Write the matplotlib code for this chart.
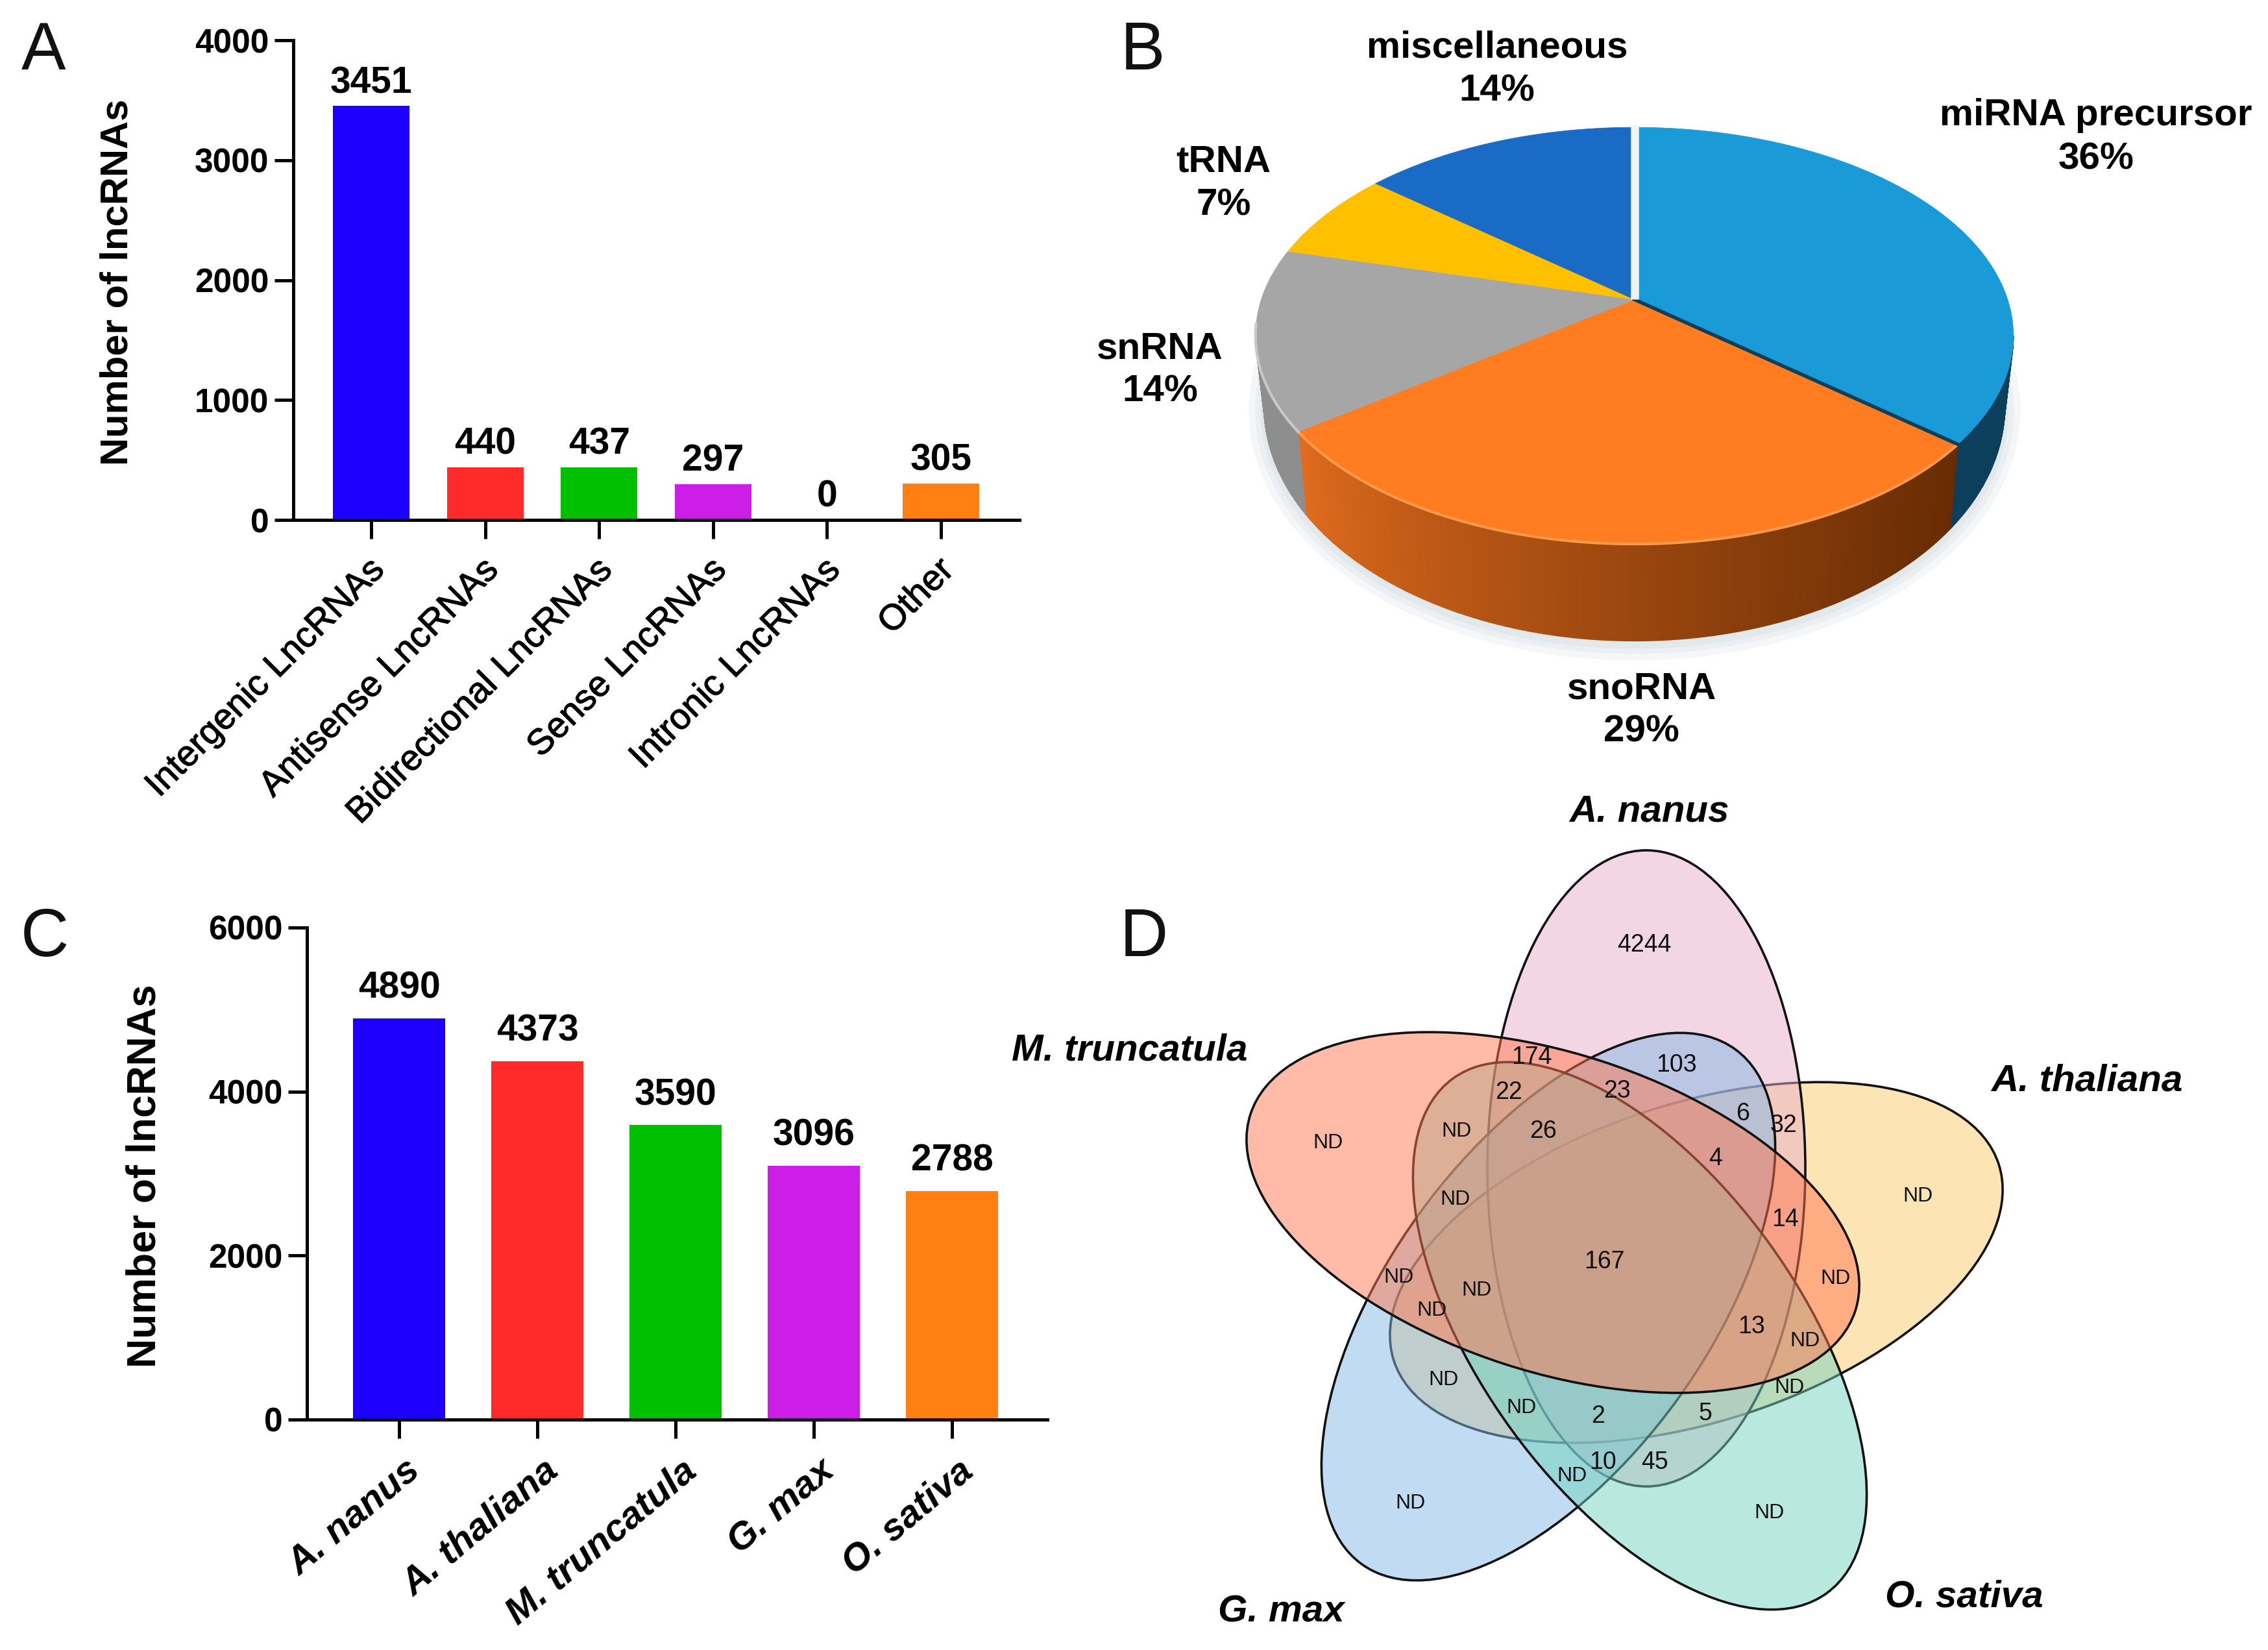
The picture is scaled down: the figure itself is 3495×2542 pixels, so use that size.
import numpy as np
import matplotlib
matplotlib.use("Agg")
import matplotlib.pyplot as plt
import matplotlib.patheffects as pe
from matplotlib.patches import Ellipse, Polygon
from matplotlib.transforms import ScaledTranslation

W, H = 3495, 2542
S = W / 1568.0
plt.rcParams['font.family'] = ['Liberation Sans', 'DejaVu Sans']

# ---- data
a_cats = ['Intergenic LncRNAs', 'Antisense LncRNAs', 'Bidirectional LncRNAs',
          'Sense LncRNAs', 'Intronic LncRNAs', 'Other']
a_vals = [3451, 440, 437, 297, 0, 305]
a_cols = ['#1E00FF', '#FF2A2A', '#00C000', '#CC1EE6', '#FFFFFF', '#FF8010']

c_cats = ['A. nanus', 'A. thaliana', 'M. truncatula', 'G. max', 'O. sativa']
c_vals = [4890, 4373, 3590, 3096, 2788]
c_cols = ['#1E00FF', '#FF2A2A', '#00C000', '#CC1EE6', '#FF8010']

pie_names = ['miRNA precursor', 'snoRNA', 'snRNA', 'tRNA', 'miscellaneous']
pie_vals = [36, 29, 14, 7, 14]
pie_cols = ['#1B9AD8', '#FF7D20', '#A6A6A6', '#FFC000', '#1A6BC6']
pie_side = ['#0B3F5C', None, '#8E8E8E', '#8E8E8E', '#8E8E8E']
pie_label_pos = [(1449, 95), (1135, 491), (802, 256), (846, 127), (1035, 48)]

venn_names = ['A. nanus', 'A. thaliana', 'O. sativa', 'G. max', 'M. truncatula']
venn_name_pos = [(1140, 561), (1443, 747), (1358, 1104), (886, 1114), (781, 726)]
# drawing order: centre x, centre y, rotation (deg, image), colour
venn_shapes = [(2614, 1945, 162, '#FDCB6C'),
               (2537, 1800, 90, '#E8AFC8'),
               (2386, 2013, 126, '#82B8E6'),
               (2527, 2058, 54, '#74D3BE'),
               (2393, 1868, 18, '#FF7850')]
venn_labels = ['4244', '174', '103', '22', '23', '6', '32', 'ND', '26', '4', 'ND', '14', '167',
               'ND', 'ND', 'ND', 'ND', '13', 'ND', 'ND', 'ND', 'ND', '2', '5', '10', '45', 'ND',
               'ND', 'ND', 'ND', 'ND']
venn_label_pos = [(1137, 653), (1059, 731), (1159, 736), (1043, 755), (1118, 754), (1205, 770),
                  (1233, 778), (1007, 782), (1067, 782), (1186, 801), (1006, 829), (1234, 843),
                  (1109, 872), (967, 883), (1021, 892), (1269, 884), (990, 906), (1211, 917),
                  (1248, 927), (998, 954), (1237, 959), (1052, 973), (1105, 979), (1179, 977),
                  (1108, 1011), (1144, 1011), (1087, 1020), (918, 790), (1326, 827), (975, 1039),
                  (1223, 1046)]

panel_letters = ['A', 'B', 'C', 'D']
panel_pos = [(30, 36), (790, 36), (31, 649), (791, 649)]

fig = plt.figure(figsize=(W / 100, H / 100), dpi=100, facecolor='white')

# overlay in pixel coordinates
ov = fig.add_axes([0, 0, 1, 1])
ov.set_xlim(0, W)
ov.set_ylim(H, 0)
ov.axis('off')


def px_axes(left, right, top, bottom):
    return fig.add_axes([left / W, 1 - bottom / H, (right - left) / W, (bottom - top) / H])


def bar_panel(ax, cats, vals, cols, ymax, yticks, width, xl, offset, rot, lab_kw, lab_dx,
              ylab_x, ylab_y, ylab_size, stroke=0):
    x = np.arange(len(vals))
    ax.bar(x, vals, width=width, color=cols, linewidth=0)
    ax.set_xlim(*xl)
    ax.set_ylim(0, ymax)
    ax.set_yticks(yticks)
    ax.set_xticks(x)
    ax.set_xticklabels(cats, rotation=rot, ha='right', va='top', rotation_mode='anchor', **lab_kw)
    ax.tick_params(axis='both', length=21, width=3.6, color='black')
    ax.tick_params(axis='y', labelsize=37, pad=6)
    ax.tick_params(axis='x', pad=16)
    for lab in ax.get_yticklabels():
        lab.set_fontweight('bold')
    for lab in ax.get_xticklabels():
        lab.set_transform(lab.get_transform() + ScaledTranslation(lab_dx / 100, 0, fig.dpi_scale_trans))
        if stroke:
            lab.set_path_effects([pe.withStroke(linewidth=stroke, foreground='black')])
    for s in ('top', 'right'):
        ax.spines[s].set_visible(False)
    for s in ('left', 'bottom'):
        ax.spines[s].set_linewidth(3.6)
    ax.patch.set_alpha(0)
    for xi, v in zip(x, vals):
        ax.annotate(str(v), (xi, v), xytext=(0, offset), textcoords='offset points',
                    ha='center', va='bottom', fontsize=41, fontweight='bold')
    fig.text(ylab_x / W, 1 - ylab_y / H, 'Number of lncRNAs', rotation=90, ha='center', va='center',
             fontsize=ylab_size, fontweight='bold')


ax_a = px_axes(452, 1571, 62, 801)
bar_panel(ax_a, a_cats, a_vals, a_cols, 4000, [0, 1000, 2000, 3000, 4000], 0.672,
          (-0.683, 5.689), 6, 45, dict(fontsize=40), -6, 181, 435, 43, stroke=0.8)

ax_c = px_axes(473, 1614, 1429, 2187)
bar_panel(ax_c, c_cats, c_vals, c_cols, 6000, [0, 2000, 4000, 6000], 0.67,
          (-0.667, 4.69), 14, 40, dict(fontsize=42, fontweight='bold', fontstyle='italic'), 8,
          223, 1812, 45)

# ---- Pie with projective tilt (B)
cx, cy = 1130 * S, 232 * S
rx, ry = 262 * S, 144 * S
bcy, brx, bry = 281 * S, 256 * S, 162 * S
apex = np.array([1130 * S, 207 * S])
chord = (cy - apex[1]) / ry
k = np.tan(np.arccos(chord) / 2)


def rim_t(frac):
    th = 2 * np.pi * np.asarray(frac)
    return 2 * np.arctan2(k * np.sin(th / 2), np.cos(th / 2))


def rim(t):
    return cx + rx * np.sin(t), cy - ry * np.cos(t)


def base(t):
    return cx + brx * np.sin(t), bcy - bry * np.cos(t)


fr = np.cumsum([0] + pie_vals) / np.sum(pie_vals)
for grow, col in ((24, '#F4F6F8'), (14, '#ECEFF2'), (6, '#E3E8EB')):
    ov.add_patch(Ellipse((cx, bcy + 6), 2 * brx + 2 * grow, 2 * bry + 2 * grow,
                         color=col, lw=0, zorder=1))

# side wall, drawn as short quads along the front of the rim
for i in range(len(pie_vals)):
    ta, tb = rim_t(fr[i]), rim_t(fr[i + 1])
    lo, hi = max(ta, np.pi / 2), min(tb, 3 * np.pi / 2)
    if lo >= hi:
        continue
    ts = np.linspace(lo, hi, 90)
    for t0, t1 in zip(ts[:-1], ts[1:]):
        x0, y0 = rim(t0)
        x1, y1 = rim(t1)
        x2, y2 = base(t1)
        x3, y3 = base(t0)
        if pie_side[i] is None:
            u = ((t0 + t1) / 2 - ta) / (tb - ta)
            c0, c1 = np.array([0x68, 0x2C, 0x04]), np.array([0xE0, 0x6C, 0x1E])
            col = (c0 + (c1 - c0) * u ** 1.2) / 255
        else:
            col = pie_side[i]
        ov.add_patch(Polygon([(x0, y0), (x1, y1), (x2, y2), (x3, y3)],
                             facecolor=col, edgecolor=col, lw=1, zorder=2))

# top face
for i, col in enumerate(pie_cols):
    ts = np.linspace(rim_t(fr[i]), rim_t(fr[i + 1]), 200)
    xs, ys = rim(ts)
    pts = np.vstack([[apex], np.column_stack([xs, ys])])
    ov.add_patch(Polygon(pts, closed=True, facecolor=col, edgecolor=col, lw=0.5, zorder=3))
    if i == 1:
        ov.plot(xs, ys, color='#FF9A4A', lw=3, zorder=4)
    if i == 2:
        ov.plot(xs[:120], ys[:120], color='#C8C8C8', lw=3, zorder=4)

xb, yb = rim(rim_t(fr[1]))
ov.plot([apex[0], xb], [apex[1], yb], color='#0B3F5C', lw=4, zorder=5)
ov.plot([apex[0], apex[0]], [apex[1], cy - ry - 4], color='#F2F2F2', lw=9,
        solid_capstyle='butt', zorder=5)

for name, val, (lx, ly) in zip(pie_names, pie_vals, pie_label_pos):
    ov.text(lx * S, ly * S, f'{name}\n{val}%', ha='center', va='center', fontsize=42,
            fontweight='bold', linespacing=1.3, zorder=6)

# ---- Venn (D): each outline is tinted by the fills drawn after it
for n, (x0, y0, ang, col) in enumerate(venn_shapes):
    ov.add_patch(Ellipse((x0, y0), 980, 490, angle=ang, facecolor=col, alpha=0.5, lw=0, zorder=7))
    ov.add_patch(Ellipse((x0, y0), 980, 490, angle=ang, fill=False, edgecolor='#111111',
                         lw=2.6, zorder=7))
for lab, (lx, ly) in zip(venn_labels, venn_label_pos):
    ov.text(lx * S, ly * S, lab, ha='center', va='center', zorder=9,
            fontsize=23 if lab == 'ND' else 27, color='#111111')
for name, (lx, ly) in zip(venn_names, venn_name_pos):
    ov.text(lx * S, ly * S, name, ha='center', va='center', fontsize=42,
            fontweight='bold', fontstyle='italic', zorder=9)

for lab, (lx, ly) in zip(panel_letters, panel_pos):
    ov.text(lx * S, ly * S, lab, ha='center', va='center', fontsize=74, color='#111111')

fig.savefig('out.png', dpi=100)
